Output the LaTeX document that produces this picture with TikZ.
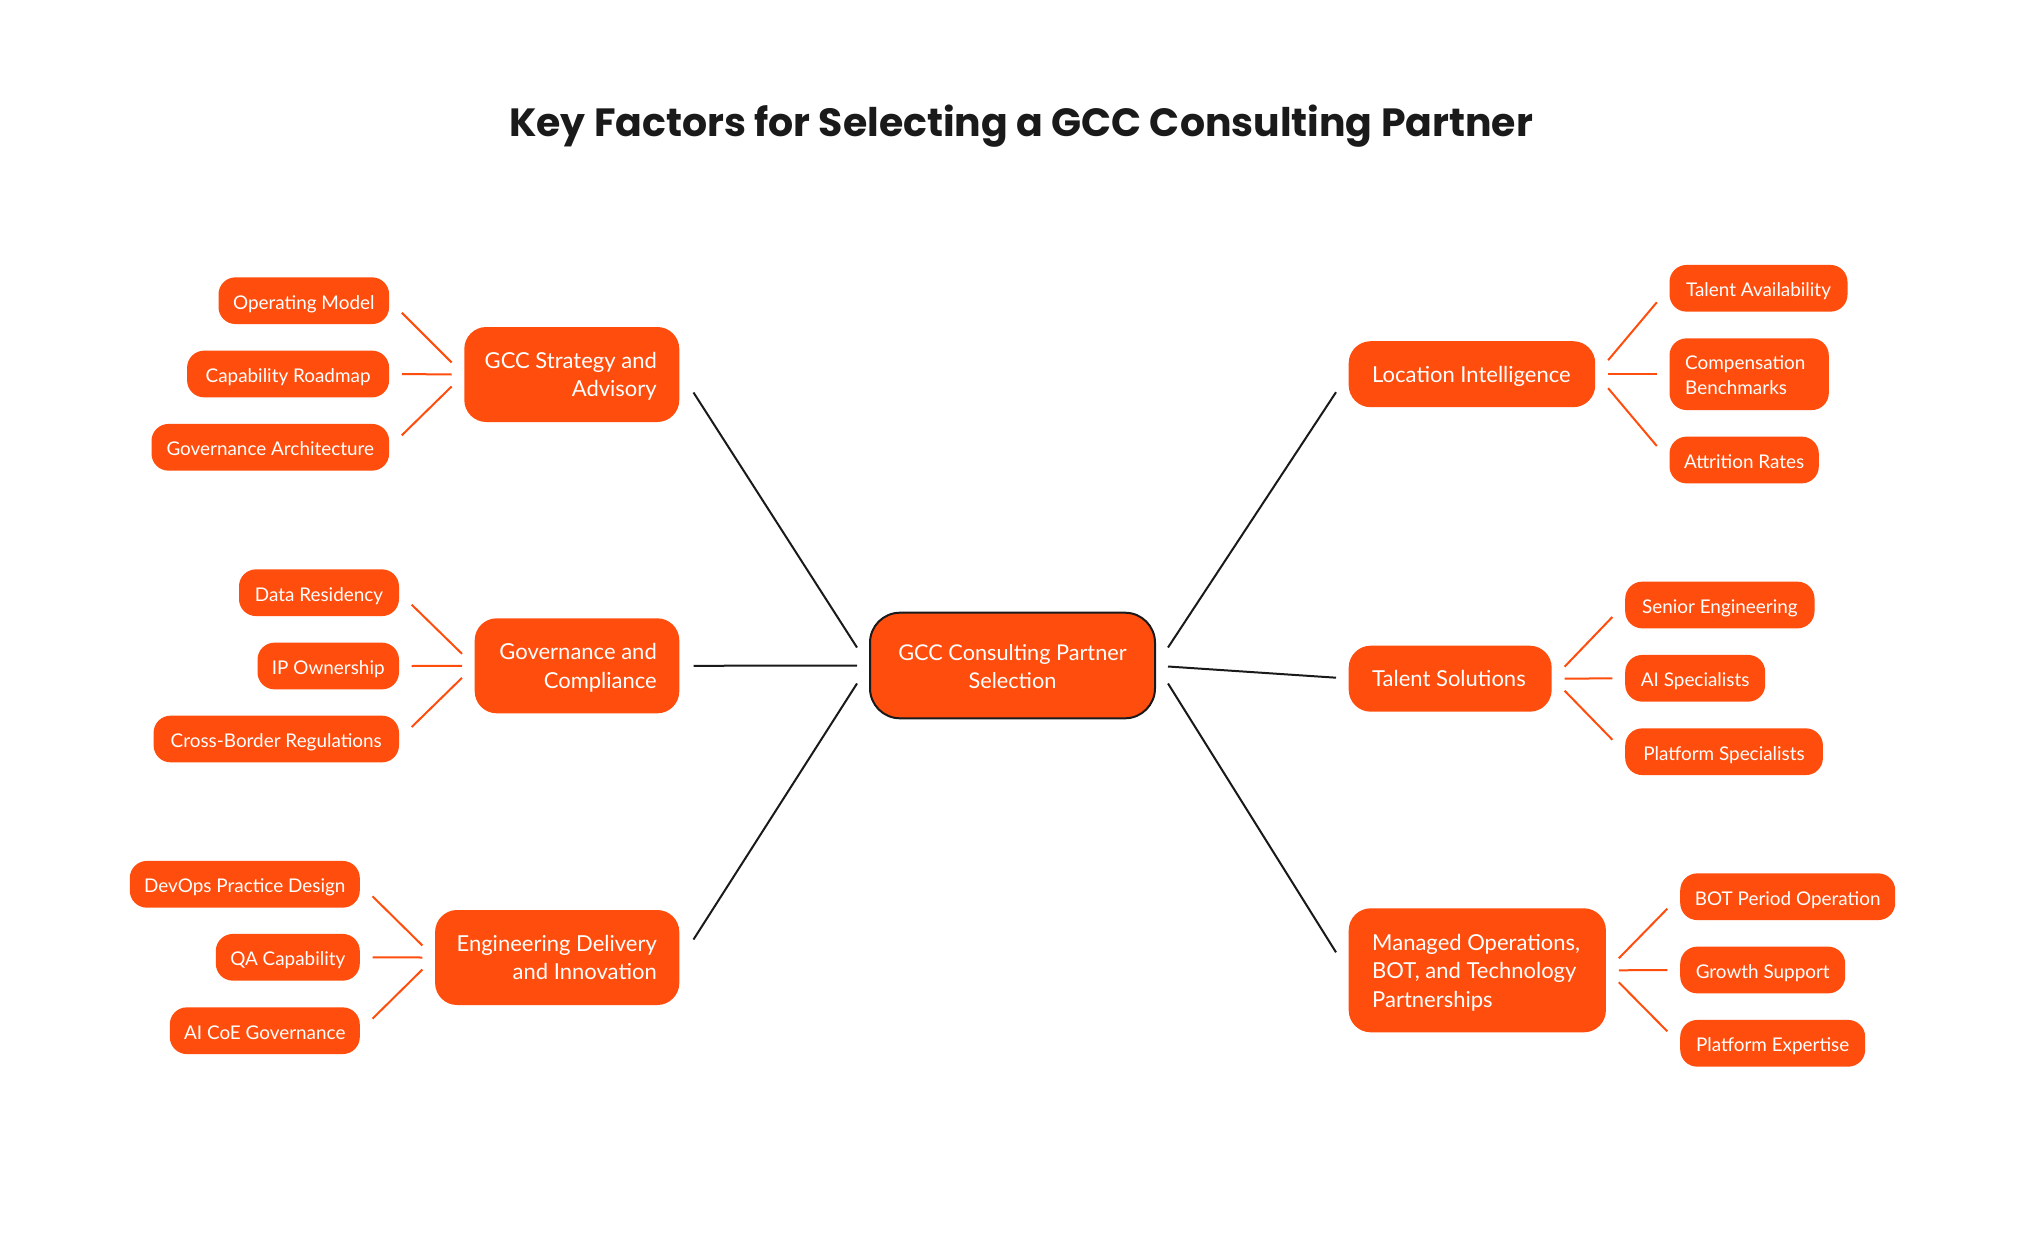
\documentclass[tikz,border=0pt]{standalone}
\usepackage{fontspec}
\setmainfont{Lato}
\newfontfamily\titlefont{Poppins}
\usetikzlibrary{calc}
\definecolor{brand}{RGB}{255,77,13}
\definecolor{ink}{RGB}{26,26,26}
\tikzset{
  box/.style={fill=brand, text=white, inner sep=0pt},
  subbox/.style={box, rounded corners=17pt, minimum height=46.7pt,
    text height=17pt, text depth=0pt,
    font=\fontsize{18.9}{24}\selectfont},
  parentbox/.style={box, rounded corners=22pt, minimum height=95pt},
  linetext/.style={text=white, inner sep=0pt, font=\fontsize{22}{28.5}\selectfont},
  smalltext/.style={text=white, inner sep=0pt, font=\fontsize{18.9}{24}\selectfont},
  centerbox/.style={box, draw=ink, line width=2pt, rounded corners=30pt,
    minimum width=285pt, minimum height=105.6pt},
  centertext/.style={text=white, inner sep=0pt, font=\fontsize{21.7}{28}\selectfont},
  redline/.style={draw=brand, line width=2pt},
  blackline/.style={draw=ink, line width=2pt},
  titletext/.style={text=ink, inner sep=0pt, font=\titlefont\bfseries\fontsize{39.4}{46}\selectfont}
}
\begin{document}
\begin{tikzpicture}[x=1pt,y=-1pt]
\useasboundingbox[fill=white] (0,0) rectangle (2040,1236);

\node[titletext, anchor=base] (title) at (1021,136.7) {Key Factors for Selecting a GCC Consulting Partner};

% center
\node[centerbox] (c) at (1012.5,665.5) {};
\node[centertext, anchor=base] (c1) at ($(c.center)+(0,-5.5)$) {GCC Consulting Partner};
\node[centertext, anchor=base] (c2) at ($(c.center)+(0,22.8)$) {Selection};

% left parents
\node[parentbox, anchor=east, minimum width=215pt] (p1) at (679.5,374.5) {};
\node[linetext, anchor=base east] (p1a) at ($(p1.east)+(-22.5,-6.3)$) {GCC Strategy and};
\node[linetext, anchor=base east] (p1b) at ($(p1.east)+(-22.5,22.2)$) {Advisory};

\node[parentbox, anchor=east, minimum width=204.6pt] (p2) at (679.5,665.8) {};
\node[linetext, anchor=base east] (p2a) at ($(p2.east)+(-22.5,-6.3)$) {Governance and};
\node[linetext, anchor=base east] (p2b) at ($(p2.east)+(-22.5,22.2)$) {Compliance};

\node[parentbox, anchor=east, minimum width=244.2pt] (p3) at (679.5,957.5) {};
\node[linetext, anchor=base east] (p3a) at ($(p3.east)+(-22.5,-6.3)$) {Engineering Delivery};
\node[linetext, anchor=base east] (p3b) at ($(p3.east)+(-22.5,22.2)$) {and Innovation};

% left subs
\node[subbox, anchor=east, minimum width=170.6pt] (s11) at (389.3,300.7) {Operating Model};
\node[subbox, anchor=east, minimum width=202pt] (s12) at (389.3,374) {Capability Roadmap};
\node[subbox, anchor=east, minimum width=237.6pt] (s13) at (389.3,447.3) {Governance Architecture};

\node[subbox, anchor=east, minimum width=160pt] (s21) at (399.2,592.7) {Data Residency};
\node[subbox, anchor=east, minimum width=141.5pt] (s22) at (399.2,666) {IP Ownership};
\node[subbox, anchor=east, minimum width=245.4pt] (s23) at (399.2,739) {Cross-Border Regulations};

\node[subbox, anchor=east, minimum width=230pt] (s31) at (360,884.3) {DevOps Practice Design};
\node[subbox, anchor=east, minimum width=144pt] (s32) at (360,957.3) {QA Capability};
\node[subbox, anchor=east, minimum width=190pt] (s33) at (360,1030.7) {AI CoE Governance};

% right parents
\node[parentbox, anchor=west, minimum width=246.5pt, minimum height=66pt] (r1) at (1348.5,374.2) {};
\node[linetext, anchor=base west] (r1a) at ($(r1.west)+(23.5,8.3)$) {Location Intelligence};

\node[parentbox, anchor=west, minimum width=203pt, minimum height=66pt] (r2) at (1348.5,678.7) {};
\node[linetext, anchor=base west] (r2a) at ($(r2.west)+(23.5,8.1)$) {Talent Solutions};

\node[parentbox, anchor=west, minimum width=257.2pt, minimum height=124pt] (r3) at (1348.5,970.3) {};
\node[linetext, anchor=base west] (r3a) at ($(r3.west)+(23.5,-20)$) {Managed Operations,};
\node[linetext, anchor=base west] (r3b) at ($(r3.west)+(23.5,8.4)$) {BOT, and Technology};
\node[linetext, anchor=base west] (r3c) at ($(r3.west)+(23.5,36.8)$) {Partnerships};

% right subs
\node[subbox, anchor=west, minimum width=178pt] (t11) at (1669.3,288.3) {Talent Availability};
\node[box, rounded corners=17pt, anchor=west, minimum width=159.3pt, minimum height=71.7pt] (t12) at (1669.3,374.2) {};
\node[smalltext, anchor=base west] (t12a) at ($(t12.west)+(15.7,-4.4)$) {Compensation};
\node[smalltext, anchor=base west] (t12b) at ($(t12.west)+(15.7,20.6)$) {Benchmarks};
\node[subbox, anchor=west, minimum width=149.3pt] (t13) at (1669.3,460) {Attrition Rates};

\node[subbox, anchor=west, minimum width=189.3pt] (t21) at (1625,605) {Senior Engineering};
\node[subbox, anchor=west, minimum width=140pt] (t22) at (1625,678.3) {AI Specialists};
\node[subbox, anchor=west, minimum width=197.7pt] (t23) at (1625,751.7) {Platform Specialists};

\node[subbox, anchor=west, minimum width=215pt] (t31) at (1680,896.7) {BOT Period Operation};
\node[subbox, anchor=west, minimum width=165pt] (t32) at (1680,970) {Growth Support};
\node[subbox, anchor=west, minimum width=185pt] (t33) at (1680,1043.3) {Platform Expertise};

% black connectors
\draw[blackline] ($(c.west)+(-12,-18)$) -- ($(p1.east)+(14,18)$);
\draw[blackline] ($(c.west)+(-12,0)$) -- ($(p2.east)+(14,0)$);
\draw[blackline] ($(c.west)+(-12,18)$) -- ($(p3.east)+(14,-18)$);
\draw[blackline] ($(c.east)+(12,-18)$) -- ($(r1.west)+(-12.5,18)$);
\draw[blackline] ($(c.east)+(12,1)$) -- ($(r2.west)+(-12.5,-1)$);
\draw[blackline] ($(c.east)+(12,18)$) -- ($(r3.west)+(-12.5,-18)$);

% red connectors, left
\draw[redline] ($(s11.east)+(12.5,12)$) -- ($(p1.west)+(-12.5,-12)$);
\draw[redline] ($(s12.east)+(12.5,0)$) -- ($(p1.west)+(-12.5,0)$);
\draw[redline] ($(s13.east)+(12.5,-12)$) -- ($(p1.west)+(-12.5,12)$);
\draw[redline] ($(s21.east)+(12.5,12)$) -- ($(p2.west)+(-12.5,-12)$);
\draw[redline] ($(s22.east)+(12.5,0)$) -- ($(p2.west)+(-12.5,0)$);
\draw[redline] ($(s23.east)+(12.5,-12)$) -- ($(p2.west)+(-12.5,12)$);
\draw[redline] ($(s31.east)+(12.5,12)$) -- ($(p3.west)+(-12.5,-12)$);
\draw[redline] ($(s32.east)+(12.5,0)$) -- ($(p3.west)+(-12.5,0)$);
\draw[redline] ($(s33.east)+(12.5,-12)$) -- ($(p3.west)+(-12.5,12)$);

% red connectors, right
\draw[redline] ($(r1.east)+(12.7,-14)$) -- ($(t11.west)+(-12.5,14)$);
\draw[redline] ($(r1.east)+(12.7,0)$) -- ($(t12.west)+(-12.5,0)$);
\draw[redline] ($(r1.east)+(12.7,14)$) -- ($(t13.west)+(-12.5,-14)$);
\draw[redline] ($(r2.east)+(12.7,-12)$) -- ($(t21.west)+(-12.7,12)$);
\draw[redline] ($(r2.east)+(12.7,0)$) -- ($(t22.west)+(-12.7,0)$);
\draw[redline] ($(r2.east)+(12.7,12)$) -- ($(t23.west)+(-12.7,-12)$);
\draw[redline] ($(r3.east)+(12.7,-12)$) -- ($(t31.west)+(-12.7,12)$);
\draw[redline] ($(r3.east)+(12.7,0)$) -- ($(t32.west)+(-12.7,0)$);
\draw[redline] ($(r3.east)+(12.7,12)$) -- ($(t33.west)+(-12.7,-12)$);
\end{tikzpicture}
\end{document}
